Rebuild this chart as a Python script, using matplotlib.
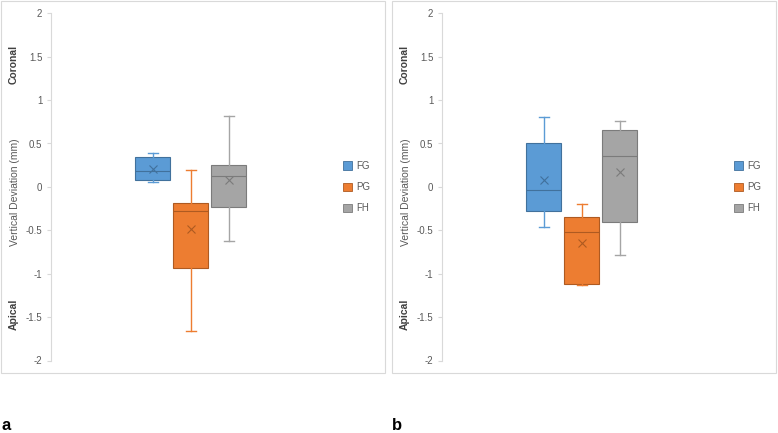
import matplotlib
matplotlib.use("Agg")
import matplotlib.pyplot as plt
from matplotlib.patches import Patch, Rectangle

plt.rcParams["font.family"] = ["Liberation Sans", "DejaVu Sans"]

groups = ["FG", "PG", "FH"]
colors = ["#5B9BD5", "#ED7D31", "#A5A5A5"]
dark = ["#41719C", "#AE5A21", "#7B7B7B"]

# 面ごとの箱ひげ: (下ひげ, Q1, 中央値, Q3, 上ひげ, 平均)
panel_a = {
    "FG": (0.06, 0.085, 0.18, 0.34, 0.385, 0.21),
    "PG": (-1.655, -0.93, -0.28, -0.185, 0.20, -0.48),
    "FH": (-0.62, -0.23, 0.12, 0.255, 0.815, 0.077),
}
panel_b = {
    "FG": (-0.457, -0.277, -0.03, 0.50, 0.80, 0.077),
    "PG": (-1.13, -1.12, -0.52, -0.35, -0.20, -0.65),
    "FH": (-0.79, -0.40, 0.357, 0.65, 0.755, 0.17),
}
yticks = [2, 1.5, 1, 0.5, 0, -0.5, -1, -1.5, -2]
panel_labels = ["a", "b"]

W, H = 778, 433
fig = plt.figure(figsize=(W / 100, H / 100), dpi=100)


def fx(px):
    return px / W


def fy(py):
    return 1 - py / H


def draw_panel(x0, data, tag):
    # 外枠
    fig.patches.append(Rectangle((fx(x0 + 1), fy(373)), fx(384), 372 / H,
                                 transform=fig.transFigure, fill=False,
                                 edgecolor="#D9D9D9", lw=0.8))
    ax_left = x0 + 50.7
    ax = fig.add_axes([fx(ax_left), fy(360.5), fx(280), (360.5 - 13.3) / H])
    # x 方向は 1 単位 = 38px、中央の箱が x0+190.7 に来るように
    unit = 38.0
    lo = 2 - (x0 + 190.7 - ax_left) / unit
    ax.set_xlim(lo, lo + 280 / unit)
    ax.set_ylim(-2, 2)

    stats = []
    for g in groups:
        wl, q1, med, q3, wh, mean = data[g]
        stats.append(dict(whislo=wl, q1=q1, med=med, q3=q3, whishi=wh,
                          mean=mean, fliers=[], label=g))
    for i, (s, c, d) in enumerate(zip(stats, colors, dark)):
        ax.bxp([s], positions=[i + 1], widths=0.92, patch_artist=True,
               showmeans=True, showfliers=False,
               boxprops=dict(facecolor=c, edgecolor=d, lw=0.8),
               medianprops=dict(color=d, lw=0.8),
               whiskerprops=dict(color=c, lw=1.0),
               capprops=dict(color=c, lw=1.0),
               capwidths=0.27,
               meanprops=dict(marker="x", markeredgecolor=d, markersize=6,
                              markeredgewidth=0.8))

    ax.set_yticks(yticks)
    ax.set_yticklabels([f"{t:g}" for t in yticks])
    ax.set_xticks([])
    for s in ["top", "right", "bottom"]:
        ax.spines[s].set_visible(False)
    ax.spines["left"].set_color("#D9D9D9")
    ax.tick_params(axis="y", colors="#D9D9D9", labelcolor="#595959",
                   labelsize=7, length=3, width=0.8, pad=3)
    ax.patch.set_alpha(0)

    fig.text(fx(x0 + 15), fy(192), "Vertical Deviation (mm)", rotation=90,
             ha="center", va="center", fontsize=7.5, color="#595959")
    fig.text(fx(x0 + 14), fy(64), "Coronal", rotation=90, ha="center",
             va="center", fontsize=7.5, color="#404040", fontweight="bold")
    fig.text(fx(x0 + 14), fy(314), "Apical", rotation=90, ha="center",
             va="center", fontsize=7.5, color="#404040", fontweight="bold")

    handles = [Patch(facecolor=c, edgecolor=d, lw=0.6, label=g)
               for g, c, d in zip(groups, colors, dark)]
    fig.legend(handles=handles, loc="center left",
               bbox_to_anchor=(fx(x0 + 343), fy(187)), frameon=False,
               fontsize=7, handlelength=0.9, handleheight=0.9,
               handletextpad=0.5, labelspacing=1.15, labelcolor="#595959",
               borderaxespad=0, borderpad=0)

    fig.text(fx(x0 + 1), fy(425), tag, ha="left", va="center", fontsize=12,
             fontweight="bold", color="black")


draw_panel(0, panel_a, panel_labels[0])
draw_panel(391, panel_b, panel_labels[1])

fig.savefig("out.png", dpi=100)
